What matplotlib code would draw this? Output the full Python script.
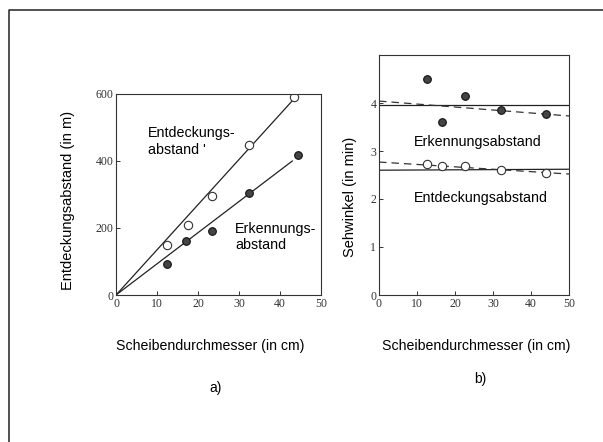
import matplotlib
matplotlib.use("Agg")
import matplotlib.pyplot as plt
from matplotlib.lines import Line2D

# ---- data (a) ----
diam_a_open = [12.5, 17.5, 23.5, 32.5, 43.5]
entdeckung_m = [150, 210, 295, 448, 592]
diam_a_fill = [12.5, 17.0, 23.5, 32.5, 44.5]
erkennung_m = [92, 160, 190, 305, 418]
fit_a_x = [0, 44.5]
fit_entdeckung = [0, 600]
fit_a_x2 = [0, 43]
fit_erkennung = [0, 400]

# ---- data (b) ----
diam_b = [12.5, 16.5, 22.5, 32.0, 44.0]
sehwinkel_erkennung = [4.5, 3.6, 4.15, 3.85, 3.78]
sehwinkel_entdeckung = [2.72, 2.68, 2.68, 2.6, 2.55]
mean_x = [0, 50]
mean_erkennung = [3.95, 3.95]
mean_entdeckung = [2.6, 2.62]
trend_x = [0, 50]
trend_erkennung = [4.04, 3.73]
trend_entdeckung = [2.77, 2.52]

sans = "Liberation Sans"
serif = "Liberation Serif"

fig = plt.figure(figsize=(6.03, 4.42), dpi=100)

# outer page frame
fig.add_artist(Line2D([9/603, 9/603, 1.0], [0.0, 1-10/442, 1-10/442],
                      transform=fig.transFigure, color="#222222", lw=1.1))

axA = fig.add_axes([116/603, 1-295/442, 205/603, 201/442])
axB = fig.add_axes([379/603, 1-295/442, 190/603, 240/442])

for ax in (axA, axB):
    for s in ax.spines.values():
        s.set_color("#333333")
        s.set_linewidth(0.8)
    ax.tick_params(direction="in", length=3, width=0.7, colors="#333333",
                   labelsize=8.5, pad=2)

# ---- panel a ----
axA.set_xlim(0, 50)
axA.set_ylim(0, 600)
axA.set_xticks([0, 10, 20, 30, 40, 50])
axA.set_yticks([0, 200, 400, 600])
axA.plot(fit_a_x, fit_entdeckung, color="#222222", lw=0.9)
axA.plot(fit_a_x2, fit_erkennung, color="#222222", lw=0.9)
axA.plot(diam_a_open, entdeckung_m, "o", ms=6, mfc="white", mec="#333333", mew=0.8)
axA.plot(diam_a_fill, erkennung_m, "o", ms=5.5, mfc="#444444", mec="#111111", mew=0.8)
axA.text(7.8, 458, "Entdeckungs-\nabstand '", family=sans, fontsize=10.3, va="center",
         ha="left", linespacing=1.2)
axA.text(29, 172, "Erkennungs-\nabstand", family=sans, fontsize=10.3, va="center",
         ha="left", linespacing=1.2)
for lab in axA.get_xticklabels() + axA.get_yticklabels():
    lab.set_family(serif)

# ---- panel b ----
axB.set_xlim(0, 50)
axB.set_ylim(0, 5)
axB.set_xticks([0, 10, 20, 30, 40, 50])
axB.set_yticks([0, 1, 2, 3, 4])
axB.plot(mean_x, mean_erkennung, color="#222222", lw=0.9)
axB.plot(mean_x, mean_entdeckung, color="#222222", lw=0.9)
axB.plot(trend_x, trend_erkennung, color="#333333", lw=0.9, ls=(0, (6, 4)))
axB.plot(trend_x, trend_entdeckung, color="#333333", lw=0.9, ls=(0, (6, 4)))
axB.plot(diam_b, sehwinkel_erkennung, "o", ms=5.5, mfc="#444444", mec="#111111", mew=0.8)
axB.plot(diam_b, sehwinkel_entdeckung, "o", ms=6, mfc="white", mec="#333333", mew=0.8)
axB.text(26, 3.19, "Erkennungsabstand", family=sans, fontsize=10.3, va="center", ha="center")
axB.text(26.8, 2.02, "Entdeckungsabstand", family=sans, fontsize=10.3, va="center", ha="center")
for lab in axB.get_xticklabels() + axB.get_yticklabels():
    lab.set_family(serif)

# axis labels and captions as figure text
fig.text(68/603, 1-200/442, "Entdeckungsabstand (in m)", family=sans, fontsize=10.5,
         rotation=90, ha="center", va="center")
fig.text(350/603, 1-197/442, "Sehwinkel (in min)", family=sans, fontsize=10.5,
         rotation=90, ha="center", va="center")
fig.text(210/603, 1-346/442, "Scheibendurchmesser (in cm)", family=sans, fontsize=10.2,
         ha="center", va="center")
fig.text(476/603, 1-346/442, "Scheibendurchmesser (in cm)", family=sans, fontsize=10.2,
         ha="center", va="center")
fig.text(216/603, 1-388/442, "a)", family=sans, fontsize=10, ha="center", va="center")
fig.text(480/603, 1-379/442, "b)", family=sans, fontsize=10, ha="center", va="center")

fig.savefig("out.png", dpi=100)
